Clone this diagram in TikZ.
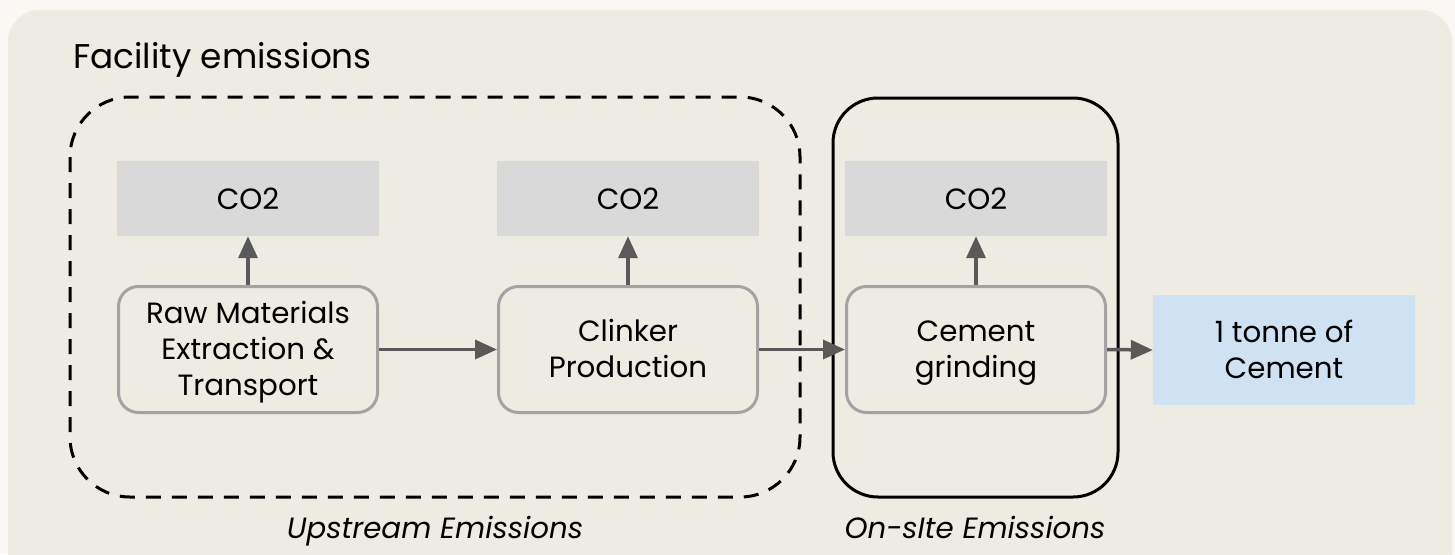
\documentclass[tikz,border=0pt]{standalone}
\usepackage{fontspec}
\setmainfont{Poppins}
\usetikzlibrary{arrows.meta}
\definecolor{pagebg}{HTML}{F9F8F4}
\definecolor{panel}{HTML}{EEEBE3}
\definecolor{co2gray}{HTML}{D9D9D9}
\definecolor{procborder}{HTML}{A3A3A3}
\definecolor{arrowgray}{HTML}{595959}
\definecolor{outblue}{HTML}{CFE2F3}
\newcommand\toplinestrut{\rule{0pt}{31pt}}
\newcommand\botlinestrut{\rule[-10.4pt]{0pt}{0pt}}
\tikzset{
  co2box/.style={rectangle, fill=co2gray, minimum width=262pt, minimum height=75pt, inner sep=0pt, font=\fontsize{29.3}{36}\selectfont},
  procbox/.style={rectangle, rounded corners=20pt, draw=procborder, line width=3pt, fill=panel, minimum width=259pt, minimum height=126pt, inner sep=0pt, align=center, font=\fontsize{29.3}{36}\selectfont},
  outbox/.style={rectangle, fill=outblue, minimum width=262pt, minimum height=110pt, inner sep=0pt, align=center, font=\fontsize{29.3}{36}\selectfont},
  flow/.style={draw=arrowgray, line width=3.5pt, -{Triangle[length=22pt,width=19pt]}},
  grouplabel/.style={font=\fontsize{29.3}{36}\selectfont\itshape, anchor=base},
}
\begin{document}
\begin{tikzpicture}[x=1pt,y=-1pt]
\useasboundingbox (0,0) rectangle (1455,554);
\fill[pagebg] (0,0) rectangle (1455,554);
\begin{scope}
\clip (0,0) rectangle (1455,554);
\fill[panel, rounded corners=32pt] (8,10) rectangle (1452,588);
\end{scope}
\node[anchor=base west, font=\fontsize{34.3}{40}\selectfont, inner sep=0pt] (title) at (73,68) {Facility emissions};
% group boxes
\draw[line width=3pt, dash pattern=on 15pt off 11pt, rounded corners=60pt] (70,97) rectangle (800,497);
\draw[line width=3pt, rounded corners=45pt] (833,98) rectangle (1118,497);
% CO2 boxes
\node[co2box] (c1) at (248,198.5) {CO2};
\node[co2box] (c2) at (628,198.5) {CO2};
\node[co2box] (c3) at (976,198.5) {CO2};
% process boxes
\node[procbox] (p1) at (248,349.5) {\toplinestrut Raw Materials\\Extraction \&\\Transport\botlinestrut};
\node[procbox] (p2) at (628,349.5) {\toplinestrut Clinker\\Production\botlinestrut};
\node[procbox] (p3) at (976,349.5) {\toplinestrut Cement\\grinding\botlinestrut};
\node[outbox] (out) at (1284,350) {\toplinestrut 1 tonne of\\Cement\botlinestrut};
% arrows
\draw[flow] (p1.north) -- (c1.south);
\draw[flow] (p2.north) -- (c2.south);
\draw[flow] (p3.north) -- (c3.south);
\draw[flow] (p1.east) -- (p2.west);
\draw[flow] (p2.east) -- (p3.west);
\draw[flow] (p3.east) -- (out.west);
% labels
\node[grouplabel] (up) at (435,538) {Upstream Emissions};
\node[grouplabel] (on) at (975,538) {On-sIte Emissions};
\end{tikzpicture}
\end{document}
